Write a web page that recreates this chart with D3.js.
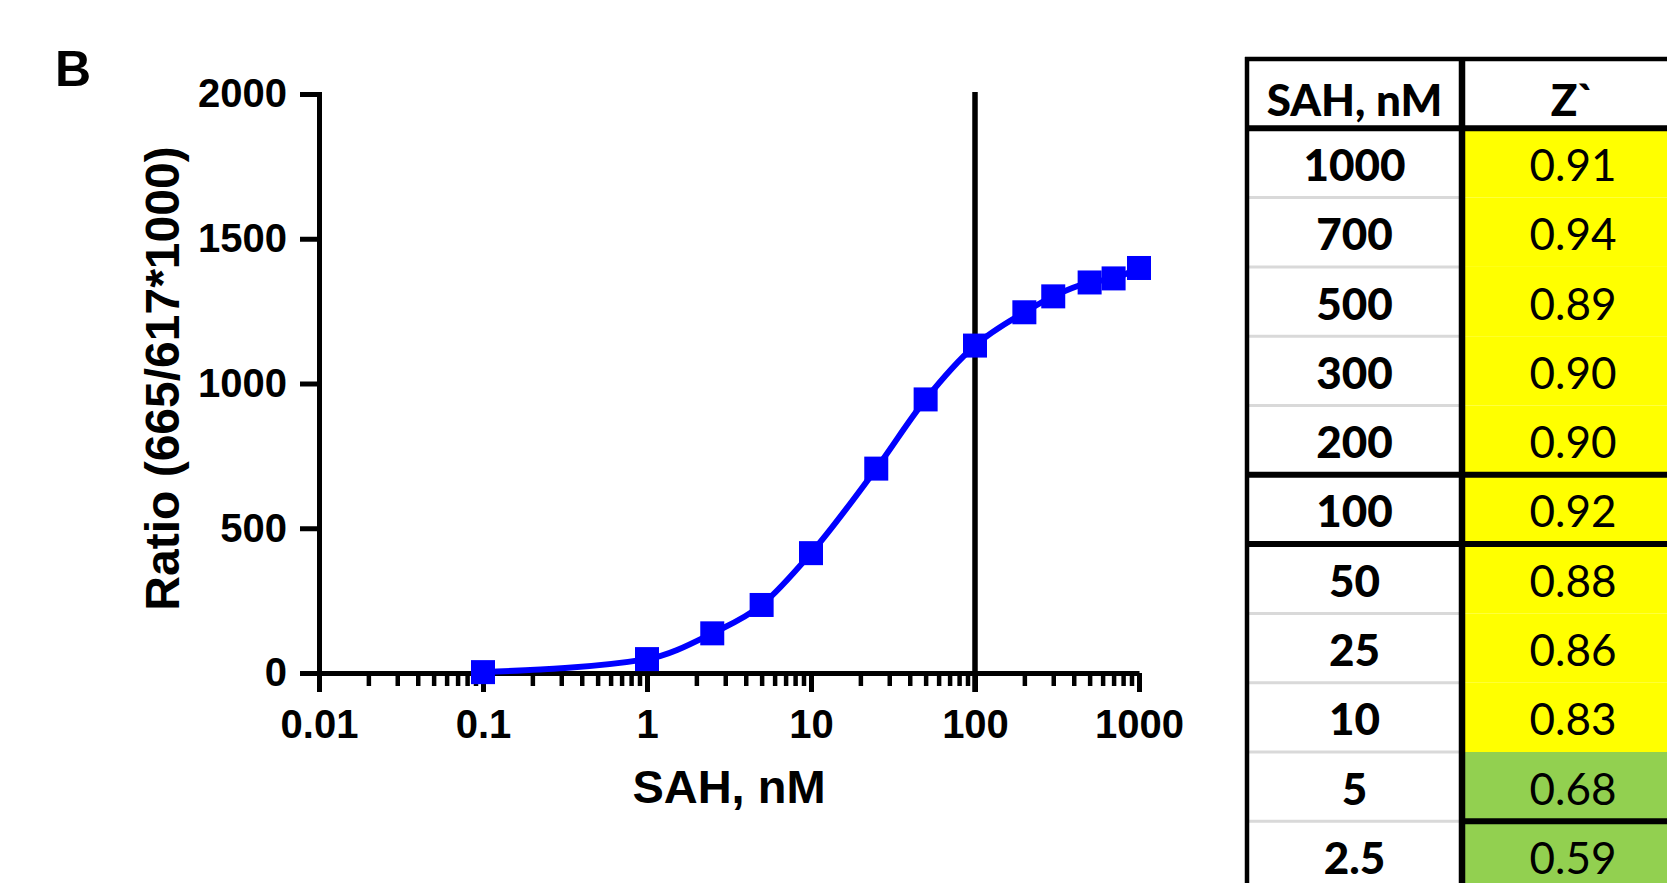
<!DOCTYPE html>
<html>
<head>
<meta charset="utf-8">
<script src="https://cdn.jsdelivr.net/npm/d3@7/dist/d3.min.js"></script>
<style>
  html, body { margin: 0; padding: 0; background: #fff; }
  svg { display: block; }
</style>
</head>
<body>
<svg id="chart" width="1667" height="883"></svg>
<script>
// ---------------- DATA ----------------
const sahConc = [0.1, 1, 2.5, 5, 10, 25, 50, 100, 200, 300, 500, 700, 1000];
const ratioValues = [3, 48, 137, 235, 414, 706, 945, 1131, 1246, 1301, 1349, 1363, 1399];
const xTickValues = [0.01, 0.1, 1, 10, 100, 1000];
const xTickLabels = ["0.01", "0.1", "1", "10", "100", "1000"];
const yTickValues = [0, 500, 1000, 1500, 2000];
const yTickLabels = ["0", "500", "1000", "1500", "2000"];
const refLineX = [100];

const tableHeader = ["SAH, nM", "Z`"];
const tableSAH = ["1000", "700", "500", "300", "200", "100", "50", "25", "10", "5", "2.5"];
const tableZ = ["0.91", "0.94", "0.89", "0.90", "0.90", "0.92", "0.88", "0.86", "0.83", "0.68", "0.59"];
// rows after which a thick rule is drawn (full width) / right column only
const thickAfterBoth = ["200", "100"];
const thickAfterRight = ["5"];

// ---------------- CHART ----------------
const svg = d3.select("#chart");
const font = "'Liberation Sans', Arial, Helvetica, sans-serif";
const blue = "#0000FF";

const x = d3.scaleLog().domain([0.01, 1000]).range([319, 1139]);
const y = d3.scaleLinear().domain([0, 2000]).range([673, 94]);

// minor ticks
const minorTicks = [];
xTickValues.slice(0, -1).forEach(d => {
  for (let k = 2; k <= 9; k++) minorTicks.push(d * k);
});

const gx = svg.append("g").attr("transform", `translate(0,${y(0)})`);
gx.append("g")
  .call(d3.axisBottom(x).tickValues(minorTicks).tickSize(13).tickSizeOuter(0).tickFormat(""))
  .call(g => g.select(".domain").remove())
  .call(g => g.selectAll("line").attr("stroke", "#000").attr("stroke-width", 4.5));
gx.append("g")
  .call(d3.axisBottom(x).tickValues(xTickValues).tickSize(19).tickSizeOuter(0).tickPadding(18)
    .tickFormat((d, i) => xTickLabels[i]))
  .call(g => g.select(".domain").attr("stroke", "#000").attr("stroke-width", 5))
  .call(g => g.selectAll("line").attr("stroke", "#000").attr("stroke-width", 5))
  .call(g => g.selectAll("text").attr("fill", "#000")
    .style("font-family", font).style("font-weight", "bold").style("font-size", "40px"));

const gy = svg.append("g").attr("transform", `translate(${x(0.01)},0)`);
gy.call(d3.axisLeft(y).tickValues(yTickValues).tickSize(19).tickSizeOuter(0).tickPadding(13)
    .tickFormat((d, i) => yTickLabels[i]))
  .call(g => g.select(".domain").attr("stroke", "#000").attr("stroke-width", 5).attr("stroke-linecap", "square"))
  .call(g => g.selectAll("line").attr("stroke", "#000").attr("stroke-width", 5))
  .call(g => g.selectAll("text").attr("fill", "#000")
    .style("font-family", font).style("font-weight", "bold").style("font-size", "40px"));

// vertical reference line at 100 nM
svg.selectAll(".ref").data(refLineX).enter().append("line")
  .attr("x1", d => x(d)).attr("x2", d => x(d))
  .attr("y1", y(2000) - 2).attr("y2", y(0) + 19)
  .attr("stroke", "#000").attr("stroke-width", 5.5);

// curve
const pts = sahConc.map((c, i) => [c, ratioValues[i]]);
const line = d3.line().x(d => x(d[0])).y(d => y(d[1])).curve(d3.curveMonotoneX);
svg.append("path").datum(pts)
  .attr("d", line).attr("fill", "none").attr("stroke", blue).attr("stroke-width", 6);

// markers
const ms = 24;
svg.selectAll(".pt").data(pts).enter().append("rect")
  .attr("x", d => x(d[0]) - ms / 2).attr("y", d => y(d[1]) - ms / 2)
  .attr("width", ms).attr("height", ms).attr("fill", blue);

// axis titles
svg.append("text").attr("x", (x(0.01) + x(1000)) / 2).attr("y", 803)
  .attr("text-anchor", "middle").attr("fill", "#000")
  .style("font-family", font).style("font-weight", "bold").style("font-size", "47px")
  .text("SAH, nM");
svg.append("text").attr("transform", `translate(179,${(y(0) + y(2000)) / 2 - 5}) rotate(-90)`)
  .attr("text-anchor", "middle").attr("fill", "#000")
  .style("font-family", font).style("font-weight", "bold").style("font-size", "48px")
  .text("Ratio (665/617*1000)");

// panel letter
svg.append("text").attr("x", 55).attr("y", 86).attr("fill", "#000")
  .style("font-family", font).style("font-weight", "bold").style("font-size", "50px")
  .text("B");

// ---------------- TABLE ----------------
const tFont = "Lato, 'Open Sans', Carlito, sans-serif";
const rowH = 69.3;
const tTop = 59;
const rows = ["__header"].concat(tableSAH);
const ry = d3.scaleBand().domain(d3.range(rows.length)).range([tTop, tTop + rowH * rows.length]);
const colX = [1247, 1462, 1690];
const tableBottom = ry(rows.length - 1) + rowH;

const zColor = v => (+v >= 0.8 ? "#FFFF00" : "#92D050");

const gt = svg.append("g");
// cell fills
tableSAH.forEach((s, i) => {
  gt.append("rect").attr("x", colX[1]).attr("y", ry(i + 1))
    .attr("width", colX[2] - colX[1]).attr("height", rowH).attr("fill", zColor(tableZ[i]));
});
// gray separators in left column
tableSAH.forEach((s, i) => {
  if (i === tableSAH.length - 1) return;
  gt.append("line").attr("x1", colX[0]).attr("x2", colX[1])
    .attr("y1", ry(i + 1) + rowH).attr("y2", ry(i + 1) + rowH)
    .attr("stroke", "#D9D9D9").attr("stroke-width", 3);
});
// thick rules
const thick = (x1, x2, yy, w) => gt.append("line").attr("x1", x1).attr("x2", x2)
  .attr("y1", yy).attr("y2", yy).attr("stroke", "#000").attr("stroke-width", w);
thick(colX[0] - 2, colX[2], tTop, 4.5);
thick(colX[0], colX[2], ry(1), 6);
tableSAH.forEach((s, i) => {
  const yy = ry(i + 1) + rowH;
  if (thickAfterBoth.includes(s)) thick(colX[0], colX[2], yy, 6);
  if (thickAfterRight.includes(s)) thick(colX[1], colX[2], yy, 6);
});
// vertical borders
gt.append("line").attr("x1", colX[0]).attr("x2", colX[0]).attr("y1", tTop - 2).attr("y2", tableBottom)
  .attr("stroke", "#000").attr("stroke-width", 4.5);
gt.append("line").attr("x1", colX[1]).attr("x2", colX[1]).attr("y1", tTop).attr("y2", tableBottom)
  .attr("stroke", "#000").attr("stroke-width", 6.5);

// texts
const cx0 = (colX[0] + colX[1]) / 2;
const cx1 = 1573;
const fs = 44;
const textY = i => ry(i) + rowH / 2 + 2.5 + 15.5;
gt.append("text").attr("x", cx0).attr("y", textY(0) + 4).attr("text-anchor", "middle")
  .style("font-family", tFont).style("font-weight", "900").style("font-size", fs + "px").attr("fill", "#000")
  .text(tableHeader[0]);
gt.append("text").attr("x", cx1).attr("y", textY(0) + 4).attr("text-anchor", "middle")
  .style("font-family", tFont).style("font-weight", "900").style("font-size", fs + "px").attr("fill", "#000")
  .text(tableHeader[1]);
tableSAH.forEach((s, i) => {
  gt.append("text").attr("x", cx0).attr("y", textY(i + 1)).attr("text-anchor", "middle")
    .style("font-family", tFont).style("font-weight", "900").style("font-size", fs + "px").attr("fill", "#000")
    .text(s);
  gt.append("text").attr("x", cx1).attr("y", textY(i + 1)).attr("text-anchor", "middle")
    .style("font-family", tFont).style("font-weight", "normal").style("font-size", fs + "px").attr("fill", "#000")
    .text(tableZ[i]);
});
</script>
</body>
</html>
